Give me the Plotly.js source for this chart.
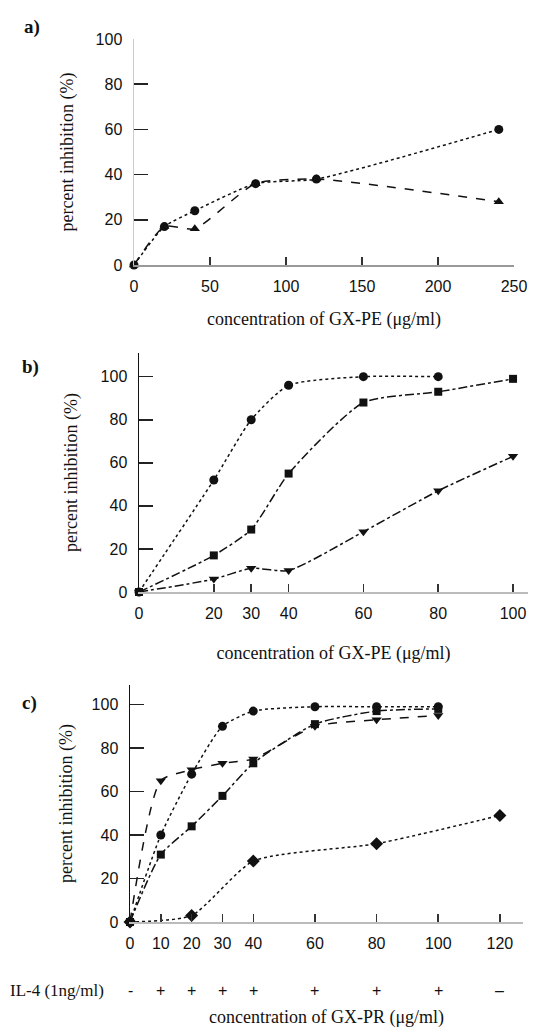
<!DOCTYPE html>
<html>
<head>
<meta charset="utf-8">
<script src="https://cdn.plot.ly/plotly-3.0.1.min.js"></script>
<style>html,body{margin:0;padding:0;background:#fff;}#chart{width:533px;height:1028px;}</style>
</head>
<body>
<div id="chart"></div>
<script>
// ---- Panel a ----
const aConc = [0, 20, 40, 80, 120, 240];
const aCircle = [0, 17, 24, 36, 38, 60];
const aTriangle = [0, 17, 16, 36, 38, 28];
const aTicks = [0, 50, 100, 150, 200, 250];

// ---- Panel b ----
const bConc = [0, 20, 30, 40, 60, 80, 100];
const bCircle = [0, 52, 80, 96, 100, 100, null];
const bSquare = [0, 17, 29, 55, 88, 93, 99];
const bTriangle = [0, 6, 11, 10, 28, 47, 63];

// ---- Panel c ----
const cConc = [0, 10, 20, 30, 40, 60, 80, 100, 120];
const cCircle = [0, 40, 68, 90, 97, 99, 99, 99, null];
const cSquare = [0, 31, 44, 58, 73, 91, 97, 98, null];
const cTriangle = [0, 65, 70, 73, 75, 90, 93, 95, null];
const cDiamond = [0, null, 3, null, 28, null, 36, null, 49];
const il4Signs = ['-', '+', '+', '+', '+', '+', '+', '+', '–'];

const yTicks = [0, 20, 40, 60, 80, 100];
const yTitle = 'percent inhibition (%)';
const xTitleA = 'concentration of GX-PE (μg/ml)';
const xTitleB = 'concentration of GX-PE (μg/ml)';
const xTitleC = 'concentration of GX-PR (μg/ml)';

const tickFont = {family: 'Liberation Sans, Arial, sans-serif', size: 16, color: '#111'};
const titleFont = {family: 'Liberation Serif, Times New Roman, serif', size: 18, color: '#111'};

function tr(x, y, xa, ya, sym, dash, size) {
  return {
    x: x, y: y, xaxis: xa, yaxis: ya, type: 'scatter', mode: 'lines+markers',
    connectgaps: true, cliponaxis: false, showlegend: false,
    line: {color: '#111', width: 1.5, dash: dash, shape: 'spline', smoothing: 0.6},
    marker: {symbol: sym, size: size || 9, color: '#111'}
  };
}

const data = [
  tr(aConc, aCircle, 'x', 'y', 'circle', 'dot'),
  tr(aConc, aTriangle, 'x', 'y', 'triangle-up', 'dash'),
  tr(bConc, bCircle, 'x2', 'y2', 'circle', 'dot'),
  tr(bConc, bSquare, 'x2', 'y2', 'square', 'dashdot', 8),
  tr(bConc, bTriangle, 'x2', 'y2', 'triangle-down', 'dashdot'),
  tr(cConc, cCircle, 'x3', 'y3', 'circle', 'dot'),
  tr(cConc, cSquare, 'x3', 'y3', 'square', 'dashdot', 8),
  tr(cConc, cTriangle, 'x3', 'y3', 'triangle-down', 'dash'),
  tr(cConc, cDiamond, 'x3', 'y3', 'diamond', 'dot', 10)
];

function xax(domain, range, tickvals, anchor, title, lineColor, standoff) {
  return {
    domain: domain, range: range, anchor: anchor, tickmode: 'array', tickvals: tickvals,
    showgrid: false, zeroline: false, showline: true, linecolor: lineColor, linewidth: 1.5,
    ticks: 'inside', ticklen: 8, tickwidth: 1.5, tickcolor: '#333', tickfont: tickFont,
    ticklabelstandoff: 6,
    title: {text: title, font: titleFont, standoff: standoff}
  };
}
function yax(domain, range, anchor, lineColor, standoff) {
  return {
    domain: domain, range: range, anchor: anchor, tickmode: 'array', tickvals: yTicks,
    showgrid: false, zeroline: false, showline: true, linecolor: lineColor, linewidth: 1.5,
    ticks: 'inside', ticklen: 14, tickwidth: 1.5, tickcolor: '#222', tickfont: tickFont,
    ticklabelstandoff: 7,
    title: {text: yTitle, font: titleFont, standoff: standoff}
  };
}

const annotations = [
  {text: '<b>a)</b>', x: 22, y: 27},
  {text: '<b>b)</b>', x: 20, y: 367},
  {text: '<b>c)</b>', x: 20, y: 703}
].map(a => ({
  text: a.text, xref: 'paper', yref: 'paper', x: a.x / 533, y: 1 - a.y / 1028,
  xanchor: 'left', yanchor: 'middle', showarrow: false,
  font: {family: 'Liberation Serif, serif', size: 19, color: '#111'}
}));

annotations.push({
  text: 'IL-4 (1ng/ml)', xref: 'paper', yref: 'paper', x: 8 / 533, y: 1 - 990 / 1028,
  xanchor: 'left', yanchor: 'middle', showarrow: false,
  font: {family: 'Liberation Serif, serif', size: 17, color: '#111'}
});
cConc.forEach((c, i) => {
  annotations.push({
    text: il4Signs[i], xref: 'x3', yref: 'paper', x: c, y: 1 - 990 / 1028,
    xanchor: 'center', yanchor: 'middle', showarrow: false,
    font: {family: 'Liberation Sans, sans-serif', size: 16, color: '#111'}
  });
});

const layout = {
  width: 533, height: 1028,
  margin: {l: 0, r: 0, t: 0, b: 0},
  paper_bgcolor: '#fff', plot_bgcolor: '#fff',
  showlegend: false,
  xaxis: xax([134 / 533, 514 / 533], [0, 250], aTicks, 'y', xTitleA, '#999', 18),
  yaxis: yax([1 - 265 / 1028, 1 - 39 / 1028], [0, 100], 'x', '#ccc', 17),
  xaxis2: xax([139 / 533, 528 / 533], [0, 104], bConc, 'y2', xTitleB, '#bbb', 25),
  yaxis2: yax([1 - 592 / 1028, 1 - 353 / 1028], [0, 111], 'x2', '#111', 18),
  xaxis3: xax([130 / 533, 523 / 533], [0, 127.5], cConc, 'y3', xTitleC, '#bbb', 62),
  yaxis3: yax([1 - 922 / 1028, 1 - 685 / 1028], [0, 109], 'x3', '#111', 14),
  annotations: annotations
};

Plotly.newPlot('chart', data, layout, {displayModeBar: false, staticPlot: true});
</script>
</body>
</html>
